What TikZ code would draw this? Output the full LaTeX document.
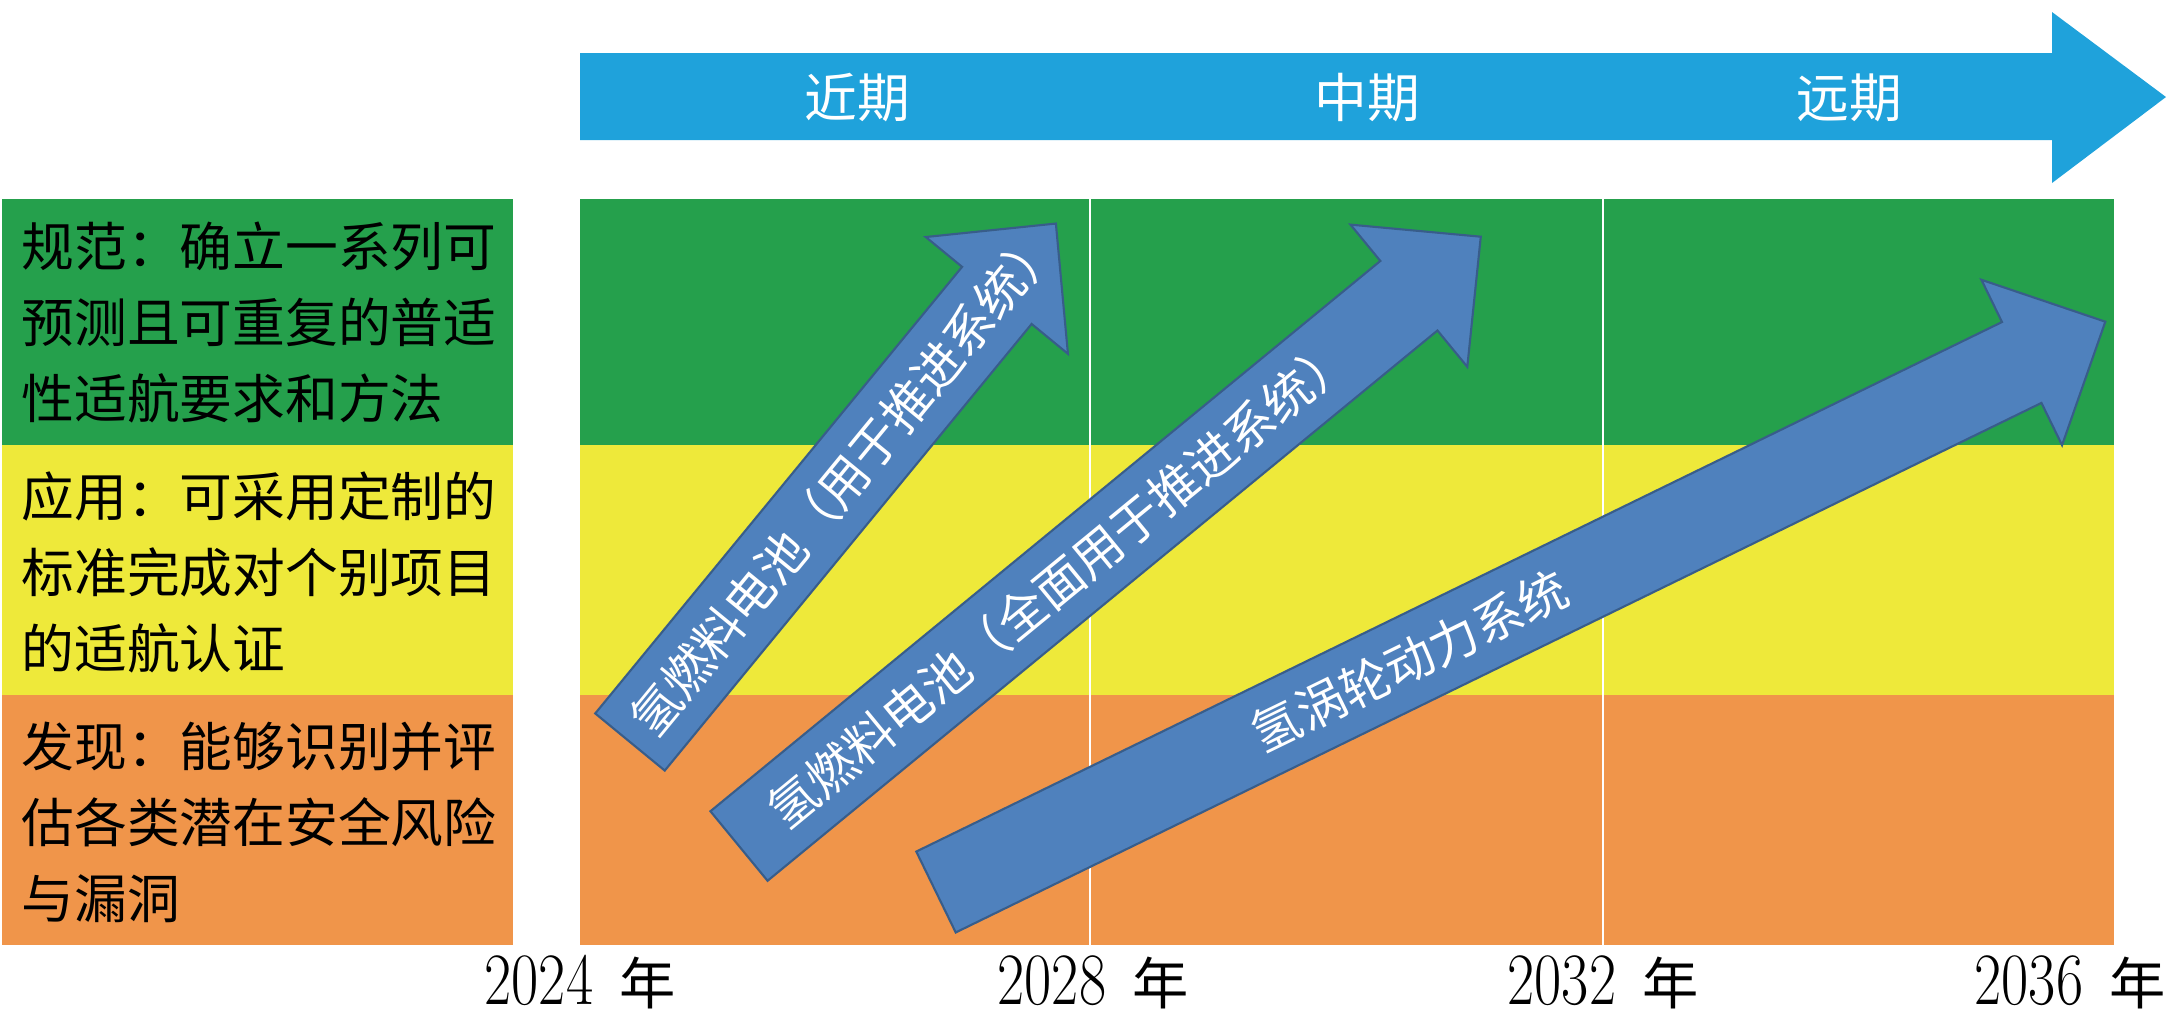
\documentclass[tikz,border=0pt]{standalone}
\usepackage{fontspec}
\newfontfamily\cjk{Noto Sans CJK SC}
\usepackage{tikz}

\definecolor{stageblue}{RGB}{31,162,219}
\definecolor{rowgreen}{RGB}{37,160,76}
\definecolor{rowyellow}{RGB}{238,233,58}
\definecolor{roworange}{RGB}{240,149,74}
\definecolor{pathfill}{RGB}{79,129,189}
\definecolor{pathline}{RGB}{56,93,138}

\newcommand{\yearlabel}[1]{\scalebox{0.8}[1]{#1}\hspace{0.35em}{\cjk\fontsize{16}{18}\selectfont 年}}

\begin{document}
\begin{tikzpicture}[x=0.01cm, y=0.01cm,
    lefttext/.style={anchor=north west, inner sep=0pt, align=left, font=\cjk\fontsize{15}{21.6}\selectfont},
    stagetext/.style={text=white, inner sep=0pt, font=\cjk\fontsize{15}{18}\selectfont},
    yeartext/.style={inner sep=0pt, font=\fontsize{21}{24}\selectfont},
    pathtext/.style={text=white, inner sep=0pt, font=\cjk\fontsize{14}{16}\selectfont}]
\useasboundingbox (0,0) rectangle (2168,-1026);

% time axis
\fill[stageblue] (580,-53) -- (2052,-53) -- (2052,-12) -- (2166,-97) -- (2052,-183) -- (2052,-140) -- (580,-140) -- cycle;
\node[stagetext] (near) at (857,-98) {近期};
\node[stagetext] (middle) at (1367,-98) {中期};
\node[stagetext] (far) at (1849,-98) {远期};

% rows
\fill[rowgreen] (2,-199) rectangle (513,-445);
\fill[rowyellow] (2,-445) rectangle (513,-695);
\fill[roworange] (2,-695) rectangle (513,-945);
\fill[rowgreen] (580,-199) rectangle (2114,-445);
\fill[rowyellow] (580,-445) rectangle (2114,-695);
\fill[roworange] (580,-695) rectangle (2114,-945);
\foreach \x in {1090, 1603}
    \draw[white, line width=0.6pt] (\x,-199) -- (\x,-945);

\node[lefttext] (spec) at (21,-221) {规范：确立一系列可\\预测且可重复的普适\\性适航要求和方法};
\node[lefttext] (apply) at (21,-471) {应用：可采用定制的\\标准完成对个别项目\\的适航认证};
\node[lefttext] (find) at (21,-721) {发现：能够识别并评\\估各类潜在安全风险\\与漏洞};

% years
\node[yeartext] (y2024) at (580,-982) {\yearlabel{2024}};
\node[yeartext] (y2028) at (1093,-982) {\yearlabel{2028}};
\node[yeartext] (y2032) at (1603,-982) {\yearlabel{2032}};
\node[yeartext, anchor=east] (y2036) at (2166,-982) {\yearlabel{2036}};

% roadmap arrows
\foreach \nm/\tx/\ty/\ang/\len/\pos/\txt in {
    fcone/630/-742/50.6/671/337/{氢燃料电池（用于推进系统）},
    fctwo/739/-846/39.4/960/415/{氢燃料电池（全面用于推进系统）},
    turbine/936/-892/26.0/1301/527/{氢涡轮动力系统}}
{
    \begin{scope}[shift={(\tx,\ty)}, rotate=\ang]
        \filldraw[fill=pathfill, draw=pathline, line width=0.6pt]
            (0,-45) -- ({\len-93},-45) -- ({\len-93},-92) -- (\len,0)
            -- ({\len-93},92) -- ({\len-93},45) -- (0,45) -- cycle;
        \node[pathtext, rotate=\ang] (\nm) at (\pos,0) {\txt};
    \end{scope}
}
\end{tikzpicture}
\end{document}
